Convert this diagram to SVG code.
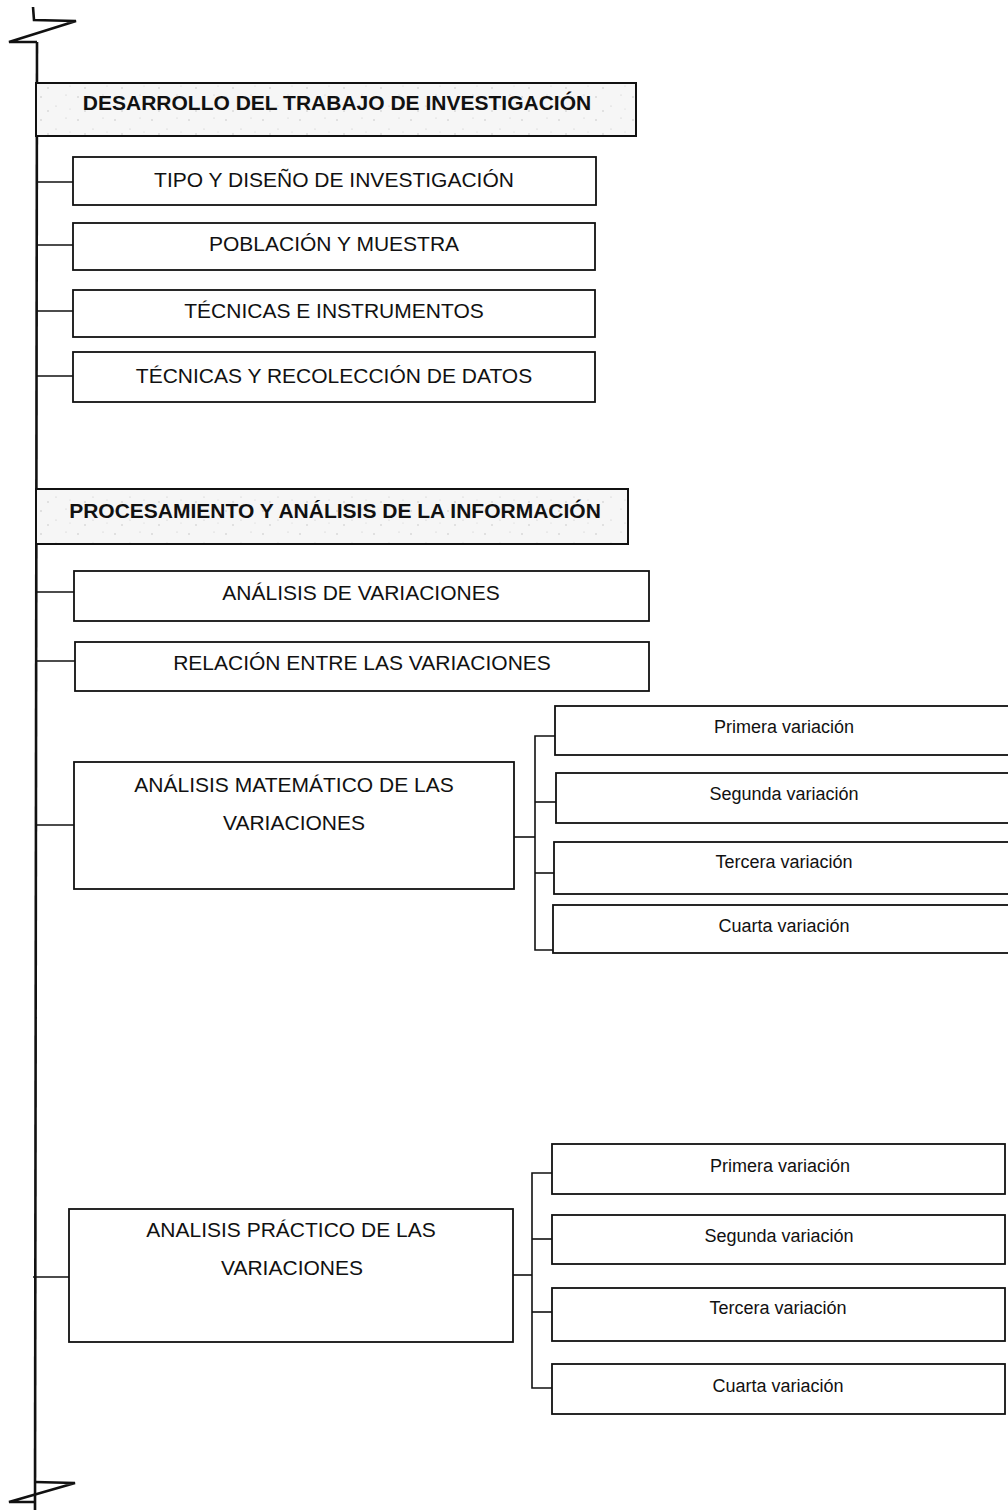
<svg xmlns="http://www.w3.org/2000/svg" width="1008" height="1510" viewBox="0 0 1008 1510">
<style>
.box{fill:#fff;stroke:#111;stroke-width:1.8}
.hdr{fill:url(#speck);stroke:#111;stroke-width:2}
.t{font-family:"Liberation Sans",Arial,sans-serif;font-size:21px;fill:#111;text-anchor:middle}
.b{font-family:"Liberation Sans",Arial,sans-serif;font-size:21px;font-weight:bold;fill:#111;text-anchor:middle}
.s{font-family:"Liberation Sans",Arial,sans-serif;font-size:18px;fill:#111;text-anchor:middle}
.c{fill:none;stroke:#111;stroke-width:1.6}
.m{fill:none;stroke:#111;stroke-width:2.6}
</style>
<defs>
<pattern id="speck" width="37" height="23" patternUnits="userSpaceOnUse">
<rect width="37" height="23" fill="#f6f6f6"/>
<circle cx="4" cy="5" r="0.7" fill="#bbb"/>
<circle cx="19" cy="14" r="0.6" fill="#c4c4c4"/>
<circle cx="29" cy="3" r="0.6" fill="#c8c8c8"/>
<circle cx="11" cy="19" r="0.7" fill="#bdbdbd"/>
<circle cx="33" cy="17" r="0.5" fill="#ccc"/>
</pattern>
</defs>

<g id="connectors">
<polyline class="m" points="33,7 34,20 76,21 9,42 37,42"/>
<line class="m" x1="37" y1="42" x2="35" y2="1510"/>
<polyline class="m" points="35,1482 75,1483 9,1502 36,1502"/>
<line class="c" x1="37" y1="182" x2="73" y2="182"/>
<line class="c" x1="37" y1="245" x2="73" y2="245"/>
<line class="c" x1="37" y1="311" x2="73" y2="311"/>
<line class="c" x1="37" y1="376" x2="73" y2="376"/>
<line class="c" x1="36" y1="592" x2="74" y2="592"/>
<line class="c" x1="36" y1="661" x2="75" y2="661"/>
<line class="c" x1="36" y1="825" x2="74" y2="825"/>
<line class="c" x1="33" y1="1277" x2="69" y2="1277"/>
<line class="c" x1="514" y1="837" x2="535" y2="837"/>
<polyline class="c" points="555,736 535,736 535,950 555,950"/>
<line class="c" x1="535" y1="802" x2="556" y2="802"/>
<line class="c" x1="535" y1="873" x2="554" y2="873"/>
<line class="c" x1="513" y1="1275" x2="532" y2="1275"/>
<polyline class="c" points="552,1173 532,1173 532,1388 552,1388"/>
<line class="c" x1="532" y1="1239" x2="552" y2="1239"/>
<line class="c" x1="532" y1="1312" x2="552" y2="1312"/>
</g>

<g id="h1"><rect class="hdr" x="36" y="83" width="600" height="53"/><text class="b" x="337" y="110">DESARROLLO DEL TRABAJO DE INVESTIGACIÓN</text></g>
<g id="n1"><rect class="box" x="73" y="157" width="523" height="48"/><text class="t" x="334" y="187">TIPO Y DISEÑO DE INVESTIGACIÓN</text></g>
<g id="n2"><rect class="box" x="73" y="223" width="522" height="47"/><text class="t" x="334" y="251">POBLACIÓN Y MUESTRA</text></g>
<g id="n3"><rect class="box" x="73" y="290" width="522" height="47"/><text class="t" x="334" y="318">TÉCNICAS E INSTRUMENTOS</text></g>
<g id="n4"><rect class="box" x="73" y="352" width="522" height="50"/><text class="t" x="334" y="383">TÉCNICAS Y RECOLECCIÓN DE DATOS</text></g>

<g id="h2"><rect class="hdr" x="36" y="489" width="592" height="55"/><text class="b" x="335" y="518">PROCESAMIENTO Y ANÁLISIS DE LA INFORMACIÓN</text></g>
<g id="n5"><rect class="box" x="74" y="571" width="575" height="50"/><text class="t" x="361" y="600">ANÁLISIS DE VARIACIONES</text></g>
<g id="n6"><rect class="box" x="75" y="642" width="574" height="49"/><text class="t" x="362" y="670">RELACIÓN ENTRE LAS VARIACIONES</text></g>

<g id="n7"><rect class="box" x="74" y="762" width="440" height="127"/><text class="t" x="294" y="792">ANÁLISIS MATEMÁTICO DE LAS</text><text class="t" x="294" y="830">VARIACIONES</text></g>
<g id="m1"><rect class="box" x="555" y="706" width="460" height="49"/><text class="s" x="784" y="733">Primera variación</text></g>
<g id="m2"><rect class="box" x="556" y="773" width="460" height="50"/><text class="s" x="784" y="800">Segunda variación</text></g>
<g id="m3"><rect class="box" x="554" y="842" width="460" height="52"/><text class="s" x="784" y="868">Tercera variación</text></g>
<g id="m4"><rect class="box" x="553" y="905" width="460" height="48"/><text class="s" x="784" y="932">Cuarta variación</text></g>

<g id="n8"><rect class="box" x="69" y="1209" width="444" height="133"/><text class="t" x="291" y="1237">ANALISIS PRÁCTICO DE LAS</text><text class="t" x="292" y="1275">VARIACIONES</text></g>
<g id="p1"><rect class="box" x="552" y="1144" width="453" height="50"/><text class="s" x="780" y="1172">Primera variación</text></g>
<g id="p2"><rect class="box" x="552" y="1215" width="453" height="49"/><text class="s" x="779" y="1242">Segunda variación</text></g>
<g id="p3"><rect class="box" x="552" y="1288" width="453" height="53"/><text class="s" x="778" y="1314">Tercera variación</text></g>
<g id="p4"><rect class="box" x="552" y="1364" width="453" height="50"/><text class="s" x="778" y="1392">Cuarta variación</text></g>
</svg>
